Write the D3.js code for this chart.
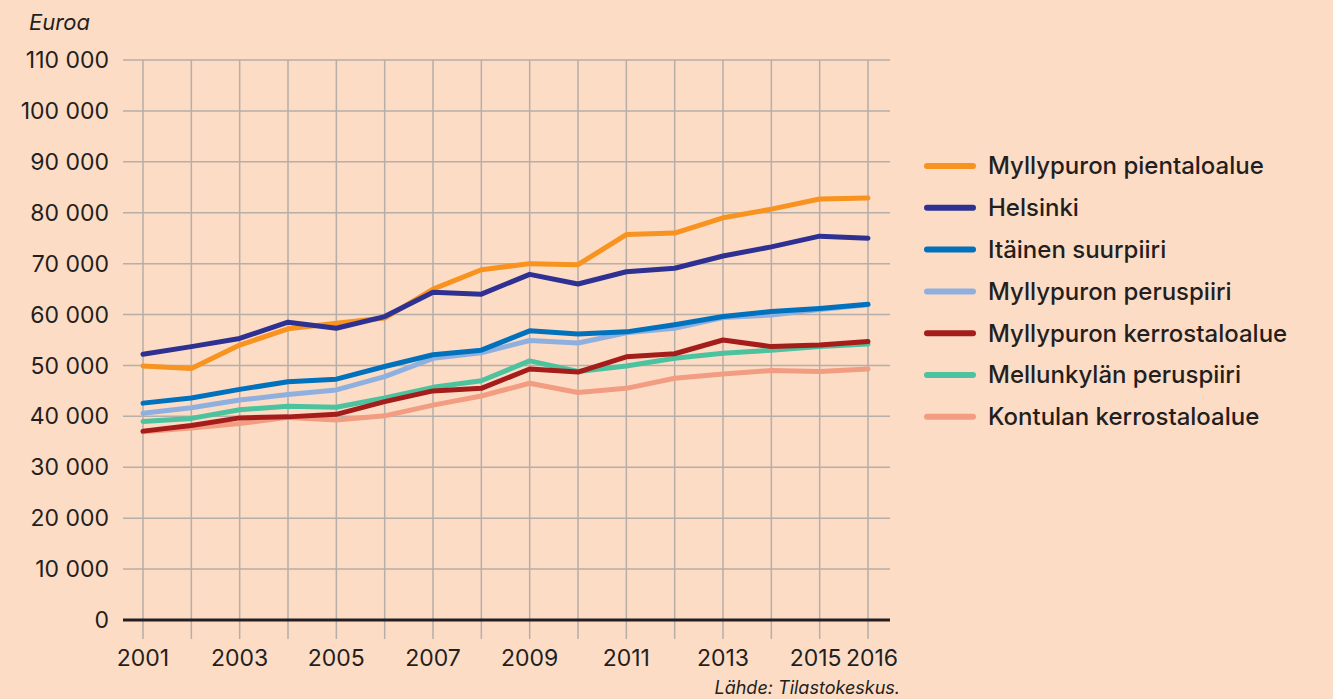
<!DOCTYPE html>
<html>
<head>
<meta charset="utf-8">
<script src="https://cdn.jsdelivr.net/npm/d3@7"></script>
<style>
  body { margin: 0; background: #fddcc6; }
  svg { display: block; font-family: Inter, Roboto, sans-serif; }
  .grid line { stroke: #b5aea9; stroke-width: 1.5; }
  .tick-label { fill: #231f20; font-size: 23px; }
  .legend text { fill: #231f20; font-size: 24px; font-weight: 500; }
</style>
</head>
<body>
<div id="chart"></div>
<script>
// years on the x axis
var years = d3.range(2001, 2017);
var xLabels = [2001, 2003, 2005, 2007, 2009, 2011, 2013, 2015, 2016];
var yTicks = d3.range(0, 110001, 10000);

// series (euros)
var seriesNames = ["Myllypuron pientaloalue", "Helsinki", "Itäinen suurpiiri", "Myllypuron peruspiiri",
    "Myllypuron kerrostaloalue", "Mellunkylän peruspiiri", "Kontulan kerrostaloalue"];
var seriesColors = ["#f7931e", "#2e3192", "#0071bc", "#8fb0de", "#a51d1b", "#4cc39e", "#f29c82"];

var pientalo = [49900, 49400, 54000, 57200, 58300, 59300, 65000, 68800, 70000, 69800, 75700, 76000, 79000, 80700, 82700, 82900];
var helsinki = [52200, 53700, 55300, 58500, 57300, 59600, 64400, 64000, 67900, 66000, 68400, 69100, 71500, 73300, 75400, 75000];
var itainen = [42600, 43600, 45300, 46800, 47300, 49800, 52100, 53000, 56800, 56200, 56600, 58000, 59600, 60600, 61200, 62000];
var myllyPerus = [40600, 41700, 43200, 44300, 45200, 47800, 51400, 52500, 54900, 54400, 56400, 57300, 59400, 59900, 61000, 61900];
var myllyKerros = [37100, 38200, 39700, 39900, 40400, 42900, 45000, 45500, 49300, 48700, 51700, 52300, 55000, 53700, 54000, 54700];
var mellunkyla = [39000, 39600, 41300, 42000, 41800, 43600, 45700, 47000, 50900, 48800, 49900, 51400, 52400, 53000, 53700, 54200];
var kontula = [37000, 37700, 38600, 39800, 39300, 40100, 42200, 44000, 46500, 44700, 45500, 47500, 48300, 49000, 48800, 49300];

// draw order: bottom ones first so the top series sit on top
var seriesValues = [pientalo, helsinki, itainen, myllyPerus, myllyKerros, mellunkyla, kontula];
var drawOrder = [6, 5, 3, 4, 2, 0, 1];

var W = 1333, H = 699;

var svg = d3.select('#chart').append('svg')
    .attr('width', W)
    .attr('height', H);

var scaleX = d3.scaleLinear().domain([2001, 2016]).range([143, 868]);
var scaleY = d3.scaleLinear().domain([0, 110000]).range([620, 60]);

var fmt = function(v){ return d3.format(",")(v).replace(/,/g, " "); };

// horizontal grid
var grid = svg.append('g').attr('class', 'grid');
grid.selectAll('.hline')
    .data(yTicks.filter(function(d){ return d > 0; }))
    .enter().append('line')
    .attr('x1', 123).attr('x2', 890)
    .attr('y1', function(d){ return scaleY(d); })
    .attr('y2', function(d){ return scaleY(d); });

// vertical grid (runs below the zero line as ticks)
grid.selectAll('.vline')
    .data(years)
    .enter().append('line')
    .attr('x1', function(d){ return scaleX(d); })
    .attr('x2', function(d){ return scaleX(d); })
    .attr('y1', scaleY(110000))
    .attr('y2', 639);

// zero line
svg.append('line')
    .attr('x1', 123).attr('x2', 890)
    .attr('y1', scaleY(0)).attr('y2', scaleY(0))
    .attr('stroke', '#231f20').attr('stroke-width', 3);

// y labels
svg.append('g').selectAll('text')
    .data(yTicks)
    .enter().append('text')
    .attr('class', 'tick-label')
    .attr('x', 109)
    .attr('y', function(d){ return scaleY(d); })
    .attr('dy', '0.35em')
    .attr('text-anchor', 'end')
    .text(fmt);

// x labels (last two nudged apart so they don't touch)
svg.append('g').selectAll('text')
    .data(xLabels)
    .enter().append('text')
    .attr('class', 'tick-label')
    .attr('x', function(d){ return scaleX(d); })
    .attr('dx', function(d){ return d == 2015 ? -4 : (d == 2016 ? 4 : 0); })
    .attr('y', 658)
    .attr('dy', '0.35em')
    .attr('text-anchor', 'middle')
    .text(function(d){ return d; });

// unit label
svg.append('text')
    .attr('x', 29).attr('y', 30)
    .attr('font-size', 22).attr('font-style', 'italic')
    .attr('fill', '#231f20')
    .text('Euroa');

// source
svg.append('text')
    .attr('x', 900).attr('y', 694)
    .attr('text-anchor', 'end')
    .attr('font-size', 18).attr('font-style', 'italic')
    .attr('fill', '#231f20')
    .text('Lähde: Tilastokeskus.');

// lines
var line = d3.line()
    .x(function(d, i){ return scaleX(years[i]); })
    .y(function(d){ return scaleY(d); });

svg.append('g').selectAll('path')
    .data(drawOrder)
    .enter().append('path')
    .attr('d', function(k){ return line(seriesValues[k]); })
    .attr('fill', 'none')
    .attr('stroke', function(k){ return seriesColors[k]; })
    .attr('stroke-width', 5)
    .attr('stroke-linejoin', 'round')
    .attr('stroke-linecap', 'round');

// legend
var legend = svg.append('g').attr('class', 'legend');
var rows = legend.selectAll('g')
    .data(seriesNames)
    .enter().append('g')
    .attr('transform', function(d, i){ return 'translate(927,' + (166 + i * 41.8) + ')'; });

rows.append('line')
    .attr('x1', 0).attr('x2', 46)
    .attr('stroke', function(d, i){ return seriesColors[i]; })
    .attr('stroke-width', 6)
    .attr('stroke-linecap', 'round');

rows.append('text')
    .attr('x', 61)
    .attr('dy', '0.35em')
    .text(function(d){ return d; });
</script>
</body>
</html>
